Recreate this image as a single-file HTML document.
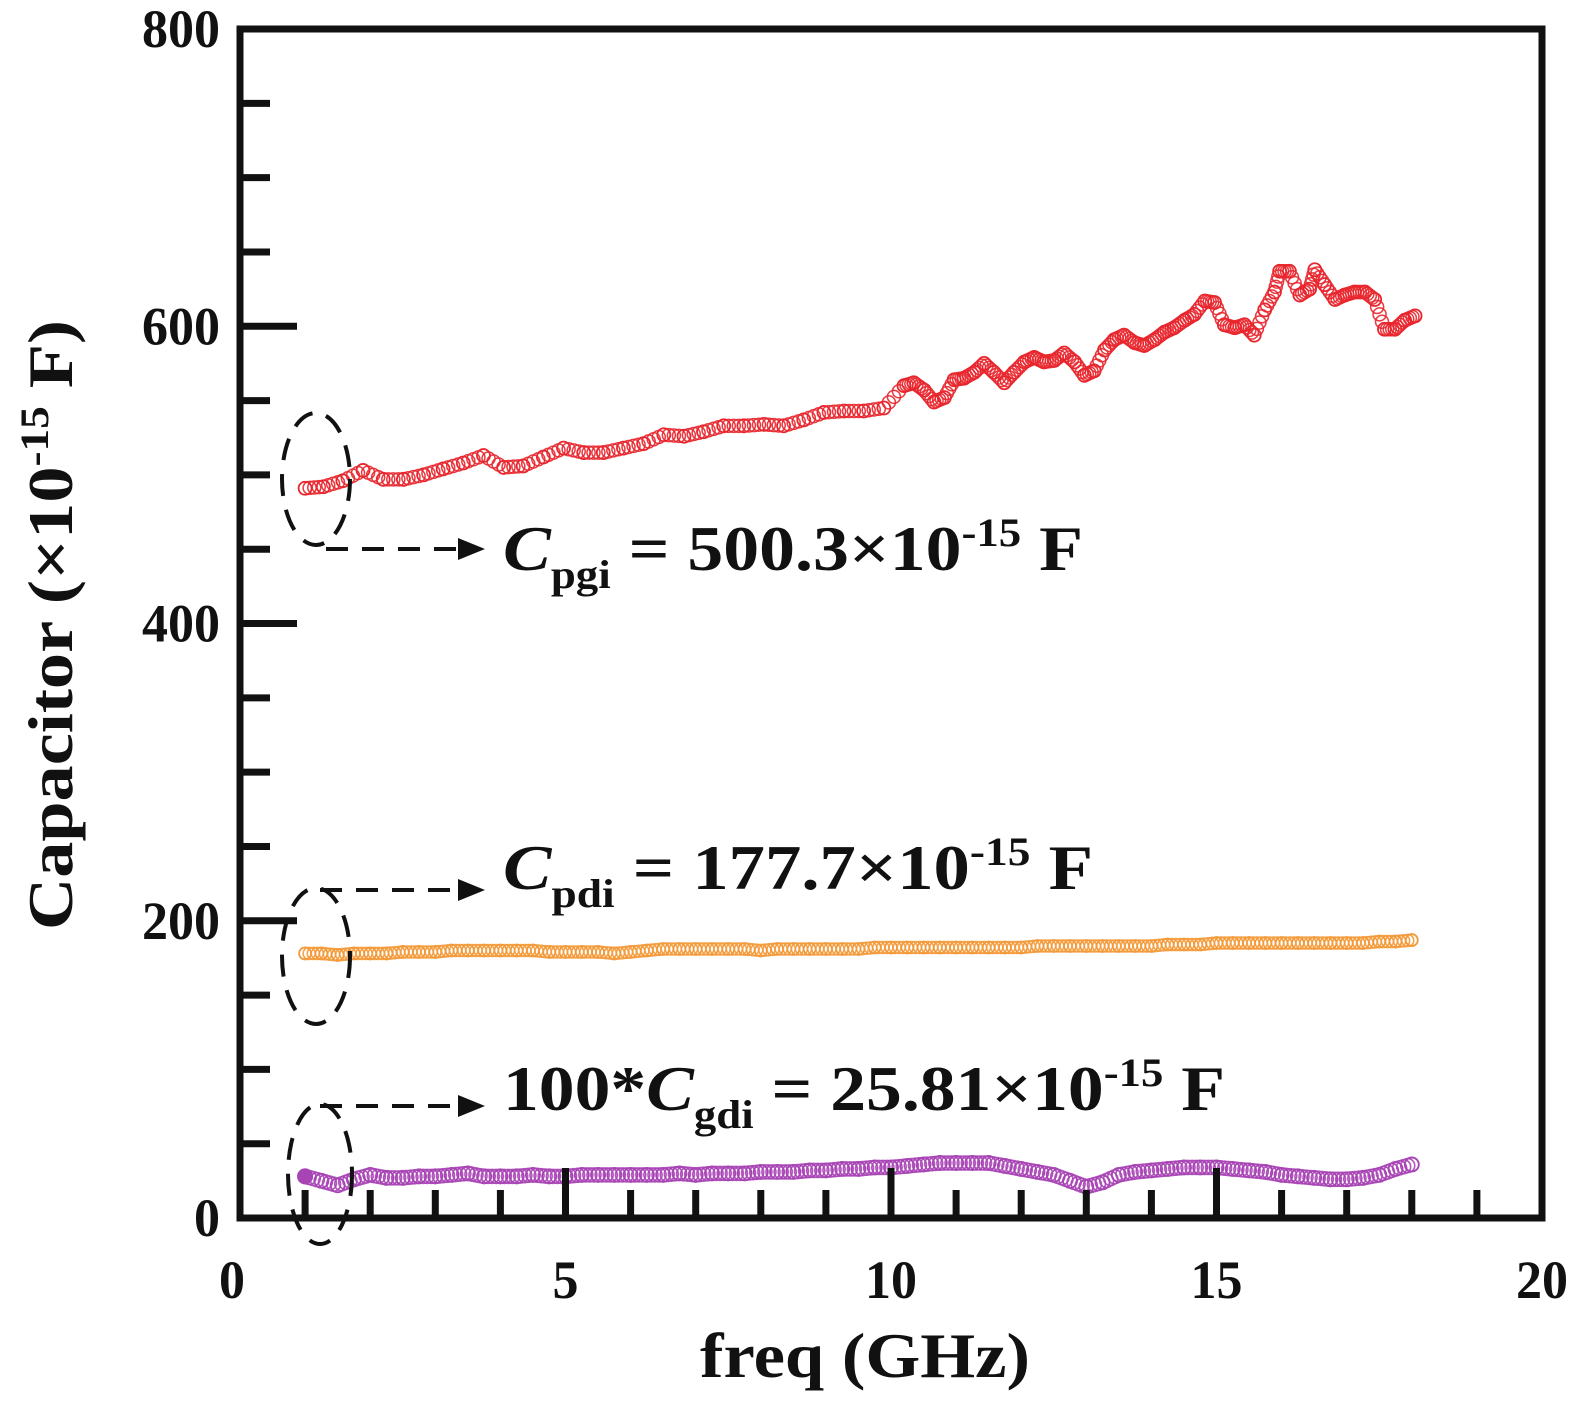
<!DOCTYPE html>
<html><head><meta charset="utf-8"><style>
html,body{margin:0;padding:0;background:#fff}
svg{display:block}
text{font-family:"Liberation Serif","Times New Roman","Nimbus Roman",serif;font-weight:bold}
</style></head><body>
<svg id="chart" width="1575" height="1421" viewBox="0 0 1575 1421" xmlns="http://www.w3.org/2000/svg" font-family="Liberation Serif, serif" font-weight="bold">
<g id="marks"></g>
<g id="axes"></g>
<g fill="none" stroke="#111" stroke-width="4" stroke-dasharray="22,14">
  <ellipse cx="316" cy="479" rx="34" ry="66"/>
  <ellipse cx="316" cy="956" rx="34" ry="68"/>
  <ellipse cx="320" cy="1174" rx="32" ry="70"/>
  <line x1="326" y1="549" x2="462" y2="549"/>
  <line x1="320" y1="890" x2="462" y2="890"/>
  <line x1="320" y1="1106" x2="462" y2="1106"/>
</g>
<g fill="#111" stroke="none">
  <polygon points="458,538 485,549 458,560"/>
  <polygon points="458,879 485,890 458,901"/>
  <polygon points="458,1095 485,1106 458,1117"/>
</g>
<g fill="#111" font-size="64">
  <text font-family="Liberation Serif, serif" x="503" y="570" textLength="580" lengthAdjust="spacingAndGlyphs"><tspan font-style="italic">C</tspan><tspan font-size="40" dy="18">pgi</tspan><tspan dy="-18"> = 500.3×10</tspan><tspan font-size="40" dy="-24">-15</tspan><tspan dy="24"> F</tspan></text>
  <text font-family="Liberation Serif, serif" x="503" y="889" textLength="590" lengthAdjust="spacingAndGlyphs"><tspan font-style="italic">C</tspan><tspan font-size="40" dy="18">pdi</tspan><tspan dy="-18"> = 177.7×10</tspan><tspan font-size="40" dy="-24">-15</tspan><tspan dy="24"> F</tspan></text>
  <text font-family="Liberation Serif, serif" x="503" y="1110" textLength="722" lengthAdjust="spacingAndGlyphs"><tspan>100*</tspan><tspan font-style="italic">C</tspan><tspan font-size="40" dy="18">gdi</tspan><tspan dy="-18"> = 25.81×10</tspan><tspan font-size="40" dy="-24">-15</tspan><tspan dy="24"> F</tspan></text>
  <text font-family="Liberation Serif, serif" x="700" y="1377" font-size="64" textLength="330" lengthAdjust="spacingAndGlyphs">freq (GHz)</text>
  <text font-family="Liberation Serif, serif" transform="translate(72,930) rotate(-90)" font-size="64" textLength="610" lengthAdjust="spacingAndGlyphs">Capacitor (×10<tspan font-size="40" dy="-24">-15</tspan><tspan dy="24"> F)</tspan></text>
</g>
</svg>
<script>
const redFreq=[1.00,1.28,1.58,1.89,2.20,2.51,2.82,3.12,3.43,3.74,4.05,4.35,4.66,4.97,5.28,5.58,5.89,6.20,6.51,6.82,7.12,7.43,7.74,8.05,8.35,8.66,8.97,9.28,9.58,9.89,10.2,10.35,10.51,10.66,10.82,10.97,11.12,11.28,11.43,11.58,11.74,11.89,12.05,12.2,12.35,12.51,12.66,12.82,12.97,13.12,13.28,13.43,13.58,13.74,13.89,14.05,14.2,14.35,14.51,14.66,14.82,14.97,15.12,15.28,15.43,15.58,15.74,15.89,15.97,16.12,16.28,16.43,16.51,16.66,16.82,16.97,17.12,17.28,17.43,17.58,17.74,17.89,18.05];
const redValues=[491,492,496,503,497,497,500,504,508,513,505,506,512,518,515,515,518,521,527,526,529,533,533,534,533,537,542,543,543,545,560,562,557,549,552,564,565,569,575,569,562,569,576,579,576,577,582,576,567,570,584,591,594,589,587,591,596,599,604,608,617,616,601,599,601,594,611,623,637,637,621,625,638,628,618,621,623,623,618,598,598,604,607];
const bandStart=1.0, bandStep=0.25;
const orangeValues=[178,178,177,178,178,178,179,179,179,180,180,180,180,180,180,179,179,179,179,178,179,180,181,181,181,181,181,181,180,181,181,181,181,181,181,182,182,182,182,182,182,182,182,182,182,183,183,183,183,183,183,183,183,184,184,184,185,185,185,185,185,185,185,185,185,185,186,186,187];
const purpleValues=[28,25,22,26,29,27,27,28,28,29,30,28,28,28,29,28,28,29,29,29,29,29,29,30,29,30,30,30,31,31,31,32,32,33,33,34,34,35,36,37,37,37,37,35,33,31,29,25,21,24,29,31,32,33,34,34,34,33,32,31,29,28,27,26,26,27,29,33,36];
const xTicks=[0,5,10,15,20];
const yTicks=[0,200,400,600,800];

const NS="http://www.w3.org/2000/svg";
const X0=240,X1=1542,Y0=1218,Y1=29;
function xs(v){return X0+(v-0)/20*(X1-X0);}
function ys(v){return Y0-(v-0)/800*(Y0-Y1);}
function mk(tag,attrs,parent){const e=document.createElementNS(NS,tag);for(const k in attrs)e.setAttribute(k,attrs[k]);parent.appendChild(e);return e;}
const marks=document.getElementById('marks');
const axes=document.getElementById('axes');

function drawSeries(freqs,vals,color,name,r,sw,sub){
  const g=mk('g',{},marks);
  
  
  for(let i=0;i<vals.length;i++){
    const c=mk('circle',{cx:xs(freqs[i]),cy:ys(vals[i]),r:r,fill:'none',stroke:color,'stroke-width':sw},g);
    
    
    if(i<vals.length-1){
      for(let k=1;k<sub;k++){
        const t=k/sub;
        const f=freqs[i]+(freqs[i+1]-freqs[i])*t, v=vals[i]+(vals[i+1]-vals[i])*t;
        const d=mk('circle',{cx:xs(f),cy:ys(v),r:r,fill:'none',stroke:color,'stroke-width':sw*0.85,opacity:0.9},g);
        
        
      }
    }
  }
  return g;
}
drawSeries(redFreq,redValues,'#e8262d','cpgi',6.5,1.8,4);
const bandFreq=orangeValues.map((_,i)=>bandStart+i*bandStep);
drawSeries(bandFreq,orangeValues,'#f39a3a','cpdi',6,1.8,4);
const pFreq=purpleValues.map((_,i)=>bandStart+i*bandStep);
drawSeries(pFreq,purpleValues,'#a845b5','cgdi',7,1.9,4);
const first=mk('circle',{cx:xs(pFreq[0]),cy:ys(purpleValues[0]),r:8,fill:'#a845b5'},marks);



const frame=mk('rect',{x:X0,y:Y1,width:X1-X0,height:Y0-Y1,fill:'none',stroke:'#111','stroke-width':7},axes);


for(let v=50;v<800;v+=50){
  const major=v%200===0;
  const t=mk('line',{x1:X0,x2:X0+(major?57:30),y1:ys(v),y2:ys(v),stroke:'#111','stroke-width':7},axes);
  
  
}
yTicks.forEach(v=>{
  const w=String(v).length*26;
  const t=mk('text',{x:220-w,y:ys(v)+18,'font-size':54,fill:'#111','font-family':'Liberation Serif, serif',textLength:w,lengthAdjust:'spacingAndGlyphs'},axes);
  t.textContent=v;
  
  
});
for(let v=1;v<20;v++){
  const major=v%5===0;
  const t=mk('line',{x1:xs(v),x2:xs(v),y1:Y0,y2:Y0-(major?50:28),stroke:'#111','stroke-width':7},axes);
  
  
}
xTicks.forEach(v=>{
  const w=String(v).length*26;
  const t=mk('text',{x:xs(v)-(v===0?8:0)-w/2,y:1298,'font-size':54,fill:'#111','font-family':'Liberation Serif, serif',textLength:w,lengthAdjust:'spacingAndGlyphs'},axes);
  t.textContent=v;
  
  
});
</script>
</body></html>
